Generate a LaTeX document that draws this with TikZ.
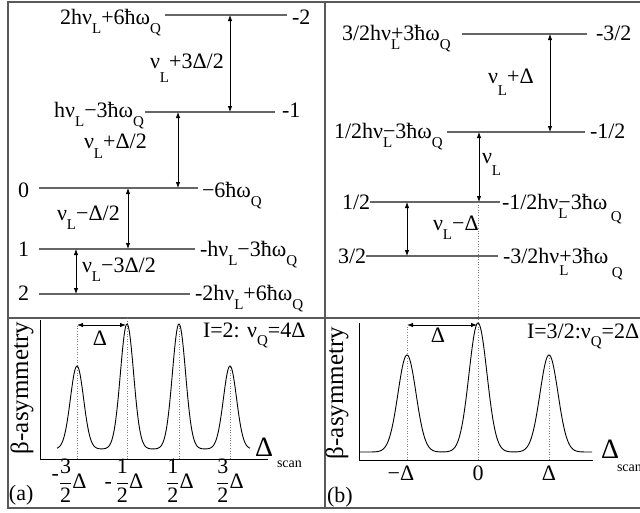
\documentclass[tikz,border=0pt]{standalone}
\usepackage{fontspec}
\setmainfont{Liberation Serif}
\usetikzlibrary{arrows.meta}
\newcommand\sbs[2][9pt]{\raisebox{-#1}{\fontsize{15}{15}\selectfont #2}}
\newcommand\sbl[2][9pt]{\rlap{\raisebox{-#1}{\fontsize{15}{15}\selectfont #2}}}
\newcommand\fr[2]{$\displaystyle\frac{\mbox{#1}}{\mbox{#2}}$}
\begin{document}
\begin{tikzpicture}[x=1pt,y=-1pt,
  every node/.style={font=\fontsize{22}{24}\selectfont, inner sep=0pt, outer sep=0pt},
  level/.style={draw=black!60, line width=1.3pt},
  frame/.style={draw=black!65, line width=1.3pt},
  dar/.style={{Latex[length=6pt,width=4.5pt]}-{Latex[length=6pt,width=4.5pt]}, line width=0.8pt},
  dotl/.style={draw=black!50, dotted, line width=0.6pt},
  axis/.style={line width=1pt},
  curve/.style={line width=0.9pt},
  big/.style={font=\fontsize{28}{30}\selectfont},
  small/.style={font=\fontsize{14}{15}\selectfont},
  ylab/.style={rotate=90, font=\fontsize{25}{27}\selectfont}
]
\useasboundingbox (0,0) rectangle (640,512);
% frame
\draw[frame] (645,2) -- (8,2) -- (8,508) -- (645,508);
\draw[frame] (325,2) -- (325,508);
\draw[frame] (8,318) -- (645,318);

% ===== top left: I=2 levels =====
\draw[level] (165,15) coordinate (Lm2a) -- (287,15) coordinate (Lm2b);
\draw[level] (145,112) coordinate (Lm1a) -- (275,112) coordinate (Lm1b);
\draw[level] (39,188) coordinate (L0a) -- (198,188) coordinate (L0b);
\draw[level] (39,249) coordinate (L1a) -- (195,249) coordinate (L1b);
\draw[level] (39,294) coordinate (L2a) -- (190,294) coordinate (L2b);

\node[anchor=base east] (tm2) at (161,24) {2hν\sbs{L}+6ħω\sbs{Q}};
\node[anchor=base west] (rm2) at (292,24) {-2};
\node[anchor=base east] (tm1) at (144,117) {hν\sbs{L}−3ħω\sbs{Q}};
\node[anchor=base west] (rm1) at (282,117) {-1};
\node[anchor=base west] (t0) at (18,197) {0};
\node[anchor=base west] (r0) at (202,197) {−6ħω\sbs{Q}};
\node[anchor=base west] (t1) at (18,256) {1};
\node[anchor=base west] (r1) at (200,256) {-hν\sbs{L}−3ħω\sbs{Q}};
\node[anchor=base west] (t2) at (18,300) {2};
\node[anchor=base west] (r2) at (195,300) {-2hν\sbs{L}+6ħω\sbs{Q}};

\coordinate (a1t) at (230,15);  \coordinate (a1b) at (230,112);
\coordinate (a2t) at (178,112); \coordinate (a2b) at (178,188);
\coordinate (a3t) at (128,188); \coordinate (a3b) at (128,249);
\coordinate (a4t) at (76,249);  \coordinate (a4b) at (76,294);
\draw[dar] (a1t) -- (a1b);
\draw[dar] (a2t) -- (a2b);
\draw[dar] (a3t) -- (a3b);
\draw[dar] (a4t) -- (a4b);
\node[anchor=base west] (f1) at (150,68) {ν\sbs[14pt]{L}+3Δ/2};
\node[anchor=base west] (f2) at (84,148) {ν\sbs[10pt]{L}+Δ/2};
\node[anchor=base west] (f3) at (57,220) {ν\sbs{L}−Δ/2};
\node[anchor=base west] (f4) at (82,272) {ν\sbs{L}−3Δ/2};

% ===== top right: I=3/2 levels =====
\draw[level] (462,34) coordinate (Km3a) -- (587,34) coordinate (Km3b);
\draw[level] (447,132) coordinate (Km1a) -- (585,132) coordinate (Km1b);
\draw[level] (370,202) coordinate (K1a) -- (500,202) coordinate (K1b);
\draw[level] (366,256) coordinate (K3a) -- (498,256) coordinate (K3b);

\node[anchor=base west] (sm3) at (342,40) {3/2hν\sbl{L}+3ħω\sbs{Q}};
\node[anchor=base west] (qm3) at (596,40) {-3/2};
\node[anchor=base west] (sm1) at (334,138) {1/2hν\sbl{L}−3ħω\sbs{Q}};
\node[anchor=base west] (qm1) at (590,138) {-1/2};
\node[anchor=base west] (s1) at (342,209) {1/2};
\node[anchor=base west] (q1) at (502,209) {-1/2hν\sbl{L}−3ħω\,\sbs[12pt]{Q}};
\node[anchor=base west] (s3) at (338,263) {3/2};
\node[anchor=base west] (q3) at (503,263) {-3/2hν\sbl[12pt]{L}+3ħω\,\sbs[14pt]{Q}};

\coordinate (b1t) at (550,34);  \coordinate (b1b) at (550,132);
\coordinate (b2t) at (479,132); \coordinate (b2b) at (479,202);
\coordinate (b3t) at (407,202); \coordinate (b3b) at (407,256);
\draw[dar] (b1t) -- (b1b);
\draw[dar] (b2t) -- (b2b);
\draw[dar] (b3t) -- (b3b);
\node[anchor=base west] (g1) at (488,83) {ν\sbs[12pt]{L}+Δ};
\node[anchor=base west] (g2) at (482,163) {ν\sbs[12pt]{L}};
\node[anchor=base west] (g3) at (433,230) {ν\sbs{L}−Δ};

% ===== bottom left: spectrum (a) =====
\draw[dotl] (77,459) -- (77,325);
\draw[dotl] (127,459) -- (127,318);
\draw[dotl] (179,459) -- (179,324);
\draw[dotl] (230,459) -- (230,366);
\draw[axis] (40,320) -- (40,459) -- (268,459);
\draw[curve] plot[domain=57:250, samples=300, smooth]
  (\x, {449 - 83*exp(-0.5*((\x-77)/6.6)^2) - 125*exp(-0.5*((\x-127)/6.6)^2)
        - 125*exp(-0.5*((\x-179)/6.6)^2) - 83*exp(-0.5*((\x-230)/6.6)^2)});
\coordinate (da1) at (77,325); \coordinate (da2) at (126,325);
\draw[dar] (da1) -- (da2);
\node[anchor=base] (dla) at (100,345) {Δ};
\node[anchor=base west] (Ia) at (203,337) {I=2: ν\sbs[8pt]{Q}=4Δ};
\node[anchor=base west, big] (Dsa) at (255,456) {Δ};
\node[anchor=base west, small] (sca) at (277,467) {scan};
\node[ylab] (ya) at (22,388) {β-asymmetry};
\node[anchor=base] (x1) at (69,488) {\raisebox{8pt}{-}\fr{3}{2}Δ};
\node[anchor=base] (x2) at (124,488) {-\,\fr{1}{2}Δ};
\node[anchor=base] (x3) at (180,488) {\fr{1}{2}Δ};
\node[anchor=base] (x4) at (230,488) {\fr{3}{2}Δ};
\node[anchor=base west] (la) at (9,500) {(a)};

% ===== bottom right: spectrum (b) =====
\draw[dotl] (407,460) -- (407,325);
\draw[dotl] (478,460) -- (478,202);
\draw[dotl] (549,460) -- (549,355);
\draw[axis] (359,323) -- (359,460) -- (593,460);
\draw[curve] plot[domain=359:592, samples=300, smooth]
  (\x, {452 - 97*exp(-0.5*((\x-407)/9)^2) - 129*exp(-0.5*((\x-478)/9)^2)
        - 97*exp(-0.5*((\x-549)/9)^2)});
\coordinate (db1) at (407,325); \coordinate (db2) at (477,325);
\draw[dar] (db1) -- (db2);
\node[anchor=base] (dlb) at (438,342) {Δ};
\node[anchor=base west] (Ib) at (527,338) {I=3/2:ν\sbs[8pt]{Q}=2Δ};
\node[anchor=base west, big] (Dsb) at (601,458) {Δ};
\node[anchor=base west, small] (scb) at (617,471) {scan};
\node[ylab] (yb) at (337,393) {β-asymmetry};
\node[anchor=base] (y1) at (401,480) {−Δ};
\node[anchor=base] (y2) at (478,480) {0};
\node[anchor=base] (y3) at (549,480) {Δ};
\node[anchor=base west] (lb) at (327,502) {(b)};
\end{tikzpicture}
\end{document}
